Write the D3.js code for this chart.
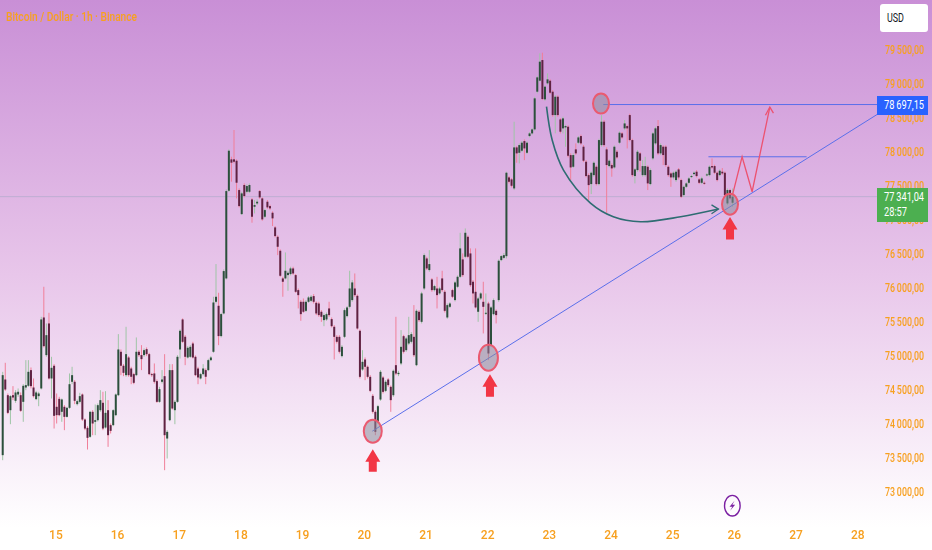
<!DOCTYPE html>
<html>
<head>
<meta charset="utf-8">
<script src="https://cdn.jsdelivr.net/npm/d3@7"></script>
<style>
html,body{margin:0;padding:0;background:#fff;overflow:hidden}
svg{display:block}
text{font-family:Roboto,"Open Sans",sans-serif}
</style>
</head>
<body>
<svg id="chart" width="932" height="550"></svg>
<script>
const bodyTop=[
74713,74649,74418,74404,74418,74458,74468,74418,74556,74566,
74762,74787,74531,74458,74443,75533,75562,75302,75474,74821,
74851,74247,74364,74355,74247,74232,74580,74713,74615,74330,
74404,74428,74060,73937,74173,74173,74050,74271,74345,74306,
74158,74197,73977,74197,74428,75091,75057,74851,75022,74973,
74811,74728,75057,75057,75008,75081,75096,75022,74728,74738,
74625,74507,74649,74698,73878,74787,74787,74320,74983,75366,
75533,75278,75116,75130,75179,74983,74811,74728,74811,74787,
74934,74973,75783,75867,75734,75612,76245,77423,78017,77890,
77890,77870,77438,77389,77512,77497,77512,77300,77217,77266,
77423,77315,77143,77266,77202,77104,76888,76750,76544,76137,
76250,76220,76284,76284,76186,75965,75793,75793,75793,75857,
75867,75877,75778,75768,75646,75597,75611,75695,75538,75425,
75277,75277,75130,75670,75710,75989,76078,75989,75881,75366,
74909,74944,74836,74688,74408,74173,74256,74762,74678,74615,
74649,74541,74777,74860,74747,75130,75287,75253,75302,75317,
75277,75660,75646,75916,76480,76431,76348,76122,76024,75989,
75989,76137,75940,75744,75768,75965,76078,76161,76579,76417,
76809,76750,76505,76088,75940,75842,75916,75793,75631,75768,
75710,75818,75660,76397,76466,76480,77693,77624,77595,78066,
78066,78100,78135,78159,78135,78272,78331,78788,79097,79328,
79352,78960,79068,79048,78886,78812,78812,78478,78493,78380,
78370,77953,77953,78037,78213,78233,78076,77855,77658,77693,
77840,77781,78174,78444,78444,78037,77870,77806,78076,78002,
78282,78272,78419,78380,78542,78174,77742,78002,77978,77791,
77791,77781,77732,78272,78346,78380,78100,78076,78076,77781,
77683,77693,77708,77742,77585,77486,77536,77609,77644,77693,
77708,77595,77609,77545,77668,77781,77791,77791,77693,77722,
77708,77693,77438,77438,77341];
const bodyBottom=[
73535,74502,74158,74197,74384,74335,74428,74188,74320,74531,
74556,74551,74404,74360,74404,74517,75140,75008,74664,74664,
74114,74124,74124,74173,74099,74099,74232,74615,74335,74286,
74320,74060,73927,73790,73805,74001,74026,74050,74197,73927,
73942,73829,73893,73977,74124,74418,74851,74747,74713,74713,
74689,74600,74713,75008,74949,75008,75022,74728,74713,74615,
74320,74320,74615,73829,73780,74050,74222,74197,74320,75091,
75204,74983,74973,74983,74973,74713,74679,74664,74728,74689,
74787,74934,75057,75793,75288,75288,75621,76137,77428,77841,
77855,77546,77202,77084,77350,77413,77413,77045,77192,77241,
77330,77006,77045,77183,77168,77021,76760,76603,76176,76088,
76137,76186,76201,76210,75940,75891,75611,75646,75660,75793,
75808,75793,75621,75597,75572,75523,75533,75597,75434,75277,
75204,75057,74993,75277,75582,75719,75818,75891,75400,74688,
74796,74836,74688,74482,74173,73878,74025,74354,74467,74482,
74566,74345,74418,74737,74728,74885,75057,75081,75179,75204,
75007,74860,75523,75498,75989,76284,76260,75965,75965,75891,
75916,75965,75660,75562,75719,75867,75818,76014,76161,76186,
76456,76456,76038,75916,75710,75646,75842,75719,75621,75032,
75155,75611,75597,75818,76407,76440,76465,77560,77501,77462,
77978,77987,78017,78051,77987,78233,78272,78331,78886,79048,
78778,78773,79009,78871,78542,78542,78542,78297,78346,78360,
77943,77771,77781,77978,78135,78125,77870,77644,77511,77526,
77658,77526,77526,78100,78100,77806,77791,77757,77771,77919,
78135,78213,78346,78346,78174,77658,77644,77732,77870,77658,
77658,77536,77526,77904,78125,77978,77978,77953,77806,77658,
77624,77624,77585,77624,77339,77364,77486,77545,77634,77673,
77644,77545,77545,77536,77658,77658,77771,77693,77585,77658,
77683,77364,77241,77315,77251];
const highs=[
74762,74895,74443,74418,74551,74492,74517,74458,74580,74934,
74934,74826,74664,74482,74468,75572,76014,75474,75631,74983,
74875,74443,74394,74369,74271,74247,74738,74836,74639,74355,
74453,74443,74075,73962,74188,74197,74281,74296,74492,74468,
74477,74345,74001,74212,74443,75317,75091,74875,75425,74993,
74836,74747,75268,75081,75155,75106,75121,75042,74747,74885,
74649,74541,74787,75022,73903,74875,74875,74345,75008,75386,
75548,75302,75140,75155,75204,75003,74836,74747,74875,74811,
74954,74993,75867,76348,75926,75631,76270,77448,78037,77929,
78322,77890,77462,77413,77536,77521,77536,77320,77291,77300,
77438,77330,77163,77291,77222,77124,76908,76770,76564,76161,
76520,76250,76309,76309,76201,75989,75818,75842,75818,75877,
75891,75906,75798,75793,75670,75621,75636,75793,75562,75449,
75302,75302,75155,75695,75729,76250,76112,76210,75901,75385,
75081,74973,74855,74713,74433,74197,74276,74787,74698,74639,
74669,74561,74796,75572,74777,75376,75307,75277,75572,75346,
75744,75680,75670,75940,76505,76456,76554,76142,76043,76161,
76014,76250,75965,75768,75788,75984,76102,76181,76809,76505,
76873,76770,76579,76112,76579,75867,75935,76088,75916,75793,
75729,75842,75680,76417,76480,76510,77708,77644,77614,78444,
78086,78125,78159,78184,78155,78292,78351,78812,79117,79451,
79460,78979,79156,79068,78910,78837,78832,78498,78518,78400,
78390,77978,77978,78125,78233,78253,78100,77879,77683,77712,
77860,77801,78194,78542,78469,78066,77889,77830,78096,78027,
78302,78292,78469,78400,78562,78194,77762,78027,77997,77879,
77928,77801,77757,78292,78370,78469,78125,78096,78096,77801,
77702,77712,77732,77762,77604,77506,77555,77629,77663,77712,
77732,77614,77634,77565,77688,77801,77904,77811,77712,77742,
77762,77712,77462,77457,77462];
const lows=[
73461,74482,74139,73991,74345,74306,74394,74173,74026,74492,
74541,74517,74384,74345,74256,74502,75121,74983,74649,74369,
73927,74001,74109,74026,73903,74089,74217,74580,74286,74266,
74296,74040,73903,73618,73790,73829,73829,74030,74173,73903,
73927,73657,73854,73962,74109,74404,74713,74698,74689,74689,
74580,74580,74698,74983,74787,74983,74993,74713,74689,74590,
74306,74306,74590,73314,73486,74035,74207,73991,74306,74958,
75189,74860,74958,74968,74958,74698,74580,74649,74708,74580,
74772,74919,75042,75769,75155,75268,75607,76122,77413,77561,
77831,77315,77183,77070,77330,77389,77394,76957,77094,77217,
77310,76986,77025,77163,77143,76908,76741,76480,76161,75867,
76122,75955,76181,76191,75925,75695,75513,75631,75641,75778,
75788,75768,75597,75572,75498,75434,75513,75572,75415,74944,
75179,75032,74973,75258,75562,75695,75793,75867,75385,74664,
74777,74639,74664,74462,74148,73829,74001,74335,74443,74462,
74541,74173,74394,74713,74698,74860,75032,75057,75155,75179,
74983,74845,75498,75474,75965,76260,76235,75940,75945,75695,
75896,75940,75636,75543,75700,75847,75798,75994,76142,76161,
76436,76436,76014,75768,75695,75498,75818,75327,75597,74934,
75130,75592,75474,75793,76390,76420,76431,77536,77477,77438,
77840,77830,77997,77879,77968,78213,78253,78311,78861,79033,
78763,78753,78989,78852,78518,78272,78518,78272,78272,78076,
77919,77585,77762,77958,78115,78105,77850,77624,77290,77379,
77634,77506,77506,78076,78076,77094,77771,77634,77752,77899,
78115,78194,78321,78051,78154,77634,77536,77708,77708,77634,
77634,77438,77506,77879,78100,77953,77953,77806,77781,77634,
77486,77595,77560,77595,77320,77339,77467,77526,77614,77653,
77624,77526,77526,77516,77639,77639,77752,77673,77565,77639,
77663,77339,77216,77290,77192];
const direction=
"GRRGRGGRGG"+"GRRGGGRGRG"+"RRRGRGGGRG"+"GRRRGRGGGR"+"GRRGGGRRGR"+
"RRGRRGRRRR"+"RGGRGGRGGG"+"RRGGRRRGGR"+"GGGGRGGGGR"+"RRRGRGGRGG"+
"RRGRRRRRRR"+"GGGRRRRRGG"+"GRRRRGGRRR"+"RRGGGGGRRR"+"GRRRRRGGRG"+
"RRGRGGRGGG"+"RGRGGRGRGR"+"GRRGGRGGGR"+"GRRRRGGRGR"+"GGRGGGGRRG"+
"RGGRGGGGGG"+"RGGRRGRRGG"+"RRGRGRRRRG"+"GRGGRRGRGR"+"GRGRRRGGRG"+
"GRGGGRGRRR"+"RGGRRGGGGG"+"RRGRGGRRRG"+"RRGRG";

const priceTicks=[79500,79000,78500,78000,77500,77000,76500,76000,75500,75000,74500,74000,73500,73000];
const dayLabels=[15,16,17,18,19,20,21,22,23,24,25,26,27,28];
const dayTickBars=[20.5,44.5,68.5,92.5,116.5,140.5,164.5,188.5,212.5,236.5,260.5,284.5,308.5,332.5];
const titleText="Bitcoin / Dollar · 1h · Binance";
const lastPrice=77341.04, countdown="28:57", targetPrice=78697.15;

const trendLine=[[143.8,73888],[340.5,78557]];
const targetLine=[[233.7,targetPrice],[340.5,targetPrice]];
const neckLine=[[274.6,77928],[312.8,77928]];
const curvePath=[[211.6,78665],[213.8,78174],[218.2,77732],[228.7,77246],[237.6,77045],[248.2,76971],[263.8,77045],[278.5,77158]];
const curveHead=[[275.8,77220],[278.5,77158],[275.8,77090]];
const zigzag=[[284,77370],[287.7,77928],[291.6,77413],[298.5,78660]];
const zigzagHead=[[296.8,78540],[298.5,78660],[299.9,78570]];
const circleBars=[144.0,189.0,232.8,283.0];
const circlePrices=[73888,74970,78712,77230];
const circleRx=[9,9.5,8,8];
const circleRy=[11.5,13,10,10.5];
const arrowBars=[144.0,189.6,283.0];
const arrowPrices=[73623,74727,77040];

const W=932,H=550;
const x=d3.scaleLinear().domain([0,340.5]).range([2.7,2.7+2.57*340.5]);
const y=d3.scaleLinear().domain([79500,73000]).range([50,491.5]);
const svg=d3.select("#chart");
const defs=svg.append("defs");
const grad=defs.append("linearGradient").attr("id","bg").attr("x1",0).attr("y1",0).attr("x2",0).attr("y2",1);
grad.append("stop").attr("offset","0%").attr("stop-color","#c98fd6");
grad.append("stop").attr("offset","50%").attr("stop-color","#e8c6ea");
grad.append("stop").attr("offset","96%").attr("stop-color","#ffffff");
svg.append("rect").attr("width",W).attr("height",H).attr("fill","url(#bg)");

const plot=svg.append("g").style("filter","blur(0.35px)");
plot.append("line").attr("x1",0).attr("x2",877).attr("y1",y(lastPrice)).attr("y2",y(lastPrice))
  .attr("stroke","#8f9fb8").attr("stroke-opacity",0.5).attr("stroke-width",0.8);

const idx=d3.range(bodyTop.length);
plot.append("g").selectAll("line").data(idx).join("line")
  .attr("x1",i=>x(i)).attr("x2",i=>x(i))
  .attr("y1",i=>y(highs[i])).attr("y2",i=>y(lows[i]))
  .attr("stroke",i=>direction[i]==="G"?"#9fc5a6":"#f07f99").attr("stroke-width",1);
plot.append("g").selectAll("rect").data(idx).join("rect")
  .attr("x",i=>x(i)-1).attr("width",2)
  .attr("y",i=>y(bodyTop[i]))
  .attr("height",i=>Math.max(1,y(bodyBottom[i])-y(bodyTop[i])))
  .attr("fill",i=>direction[i]==="G"?"#2c4f3c":"#5f2242");

const ln=d3.line().x(d=>x(d[0])).y(d=>y(d[1]));
const blue="#5a6fea";
[trendLine,targetLine,neckLine].forEach(p=>plot.append("path").attr("d",ln(p)).attr("fill","none").attr("stroke",blue).attr("stroke-width",1));
plot.append("path").attr("d",ln.curve(d3.curveCatmullRom)(curvePath)).attr("fill","none").attr("stroke","#2e6c72").attr("stroke-width",1.6);
ln.curve(d3.curveLinear);
plot.append("path").attr("d",ln(curveHead)).attr("fill","none").attr("stroke","#2e6c72").attr("stroke-width",1.3);
[zigzag,zigzagHead].forEach(p=>plot.append("path").attr("d",ln(p)).attr("fill","none").attr("stroke","#ec5270").attr("stroke-width",1.3));

plot.append("g").selectAll("ellipse").data(circleBars).join("ellipse")
  .attr("cx",d=>x(d)).attr("cy",(d,i)=>y(circlePrices[i]))
  .attr("rx",(d,i)=>circleRx[i]).attr("ry",(d,i)=>circleRy[i])
  .attr("fill","#8d8d9b").attr("fill-opacity",0.55).attr("stroke","#ea5a70").attr("stroke-width",2);

plot.append("g").selectAll("path").data(arrowBars).join("path")
  .attr("transform",(d,i)=>`translate(${x(d)},${y(arrowPrices[i])})`)
  .attr("d","M0,0L7.5,12.5L4,12.5L4,22.5L-4,22.5L-4,12.5L-7.5,12.5Z")
  .attr("fill","#f23645");

// lightning badge
const badge=svg.append("g").attr("transform",`translate(${x(283.9)},505.7)`);
badge.append("ellipse").attr("rx",7.8).attr("ry",10.3).attr("fill","none").attr("stroke","#7b1fa2").attr("stroke-width",1.4);
badge.append("path").attr("d","M2.2,-5L-2.8,1L0,1L-2.2,5L2.8,-1L0,-1Z").attr("fill","#7b1fa2");

// axes
const orange="#f7a01f";
const soft="blur(0.3px)";
const fmt=v=>{const s=v.toFixed(2).replace(".",",");return s.slice(0,2)+"\u2009"+s.slice(2);};
const yAxis=d3.axisRight(y).tickValues(priceTicks).tickFormat(fmt).tickSize(0).tickPadding(0);
const gy=svg.append("g").attr("transform","translate(924,0)").style("filter",soft).call(yAxis);
gy.select(".domain").remove();
gy.selectAll("text").attr("fill",orange).attr("font-size",12).attr("font-weight",500).attr("font-family","Roboto,sans-serif")
  .attr("text-anchor","end").attr("x",0)
  .attr("textLength",39).attr("lengthAdjust","spacingAndGlyphs");

const xAxis=d3.axisBottom(x).tickValues(dayTickBars).tickFormat((d,i)=>dayLabels[i]).tickSize(0).tickPadding(0);
const gx=svg.append("g").attr("transform","translate(0,530)").style("filter",soft).call(xAxis);
gx.select(".domain").remove();
gx.selectAll("text").attr("fill",orange).attr("font-size",12).attr("font-weight",500).attr("font-family","Roboto,sans-serif")
  .attr("y",0).attr("dy","0.71em");

svg.append("text").attr("x",6).attr("y",21).attr("fill",orange).attr("font-size",12).attr("font-weight",500)
  .style("filter","blur(0.5px)")
  .attr("textLength",131).attr("lengthAdjust","spacingAndGlyphs").text(titleText);

// USD box
svg.append("rect").attr("x",880).attr("y",4).attr("width",48).attr("height",28).attr("rx",3).attr("fill","#fff");
svg.append("text").attr("x",887).attr("y",22).attr("fill","#131722").attr("font-size",12)
  .attr("textLength",17).attr("lengthAdjust","spacingAndGlyphs").text("USD");

// price tags
svg.append("rect").attr("x",877).attr("y",96).attr("width",51).attr("height",19).attr("fill","#2962ff");
svg.append("text").attr("x",884).attr("y",y(targetPrice)+4.5).attr("fill","#fff").attr("font-size",12.5)
  .attr("textLength",40).attr("lengthAdjust","spacingAndGlyphs").text(fmt(targetPrice));
svg.append("rect").attr("x",877).attr("y",188).attr("width",51).attr("height",34).attr("fill","#4caf50");
svg.append("text").attr("x",884).attr("y",y(lastPrice)+4.5).attr("fill","#fff").attr("font-size",12.5)
  .attr("textLength",40).attr("lengthAdjust","spacingAndGlyphs").text(fmt(lastPrice));
svg.append("text").attr("x",884).attr("y",216).attr("fill","#fff").attr("font-size",12.5)
  .attr("textLength",23).attr("lengthAdjust","spacingAndGlyphs").text(countdown);
</script>
</body>
</html>
